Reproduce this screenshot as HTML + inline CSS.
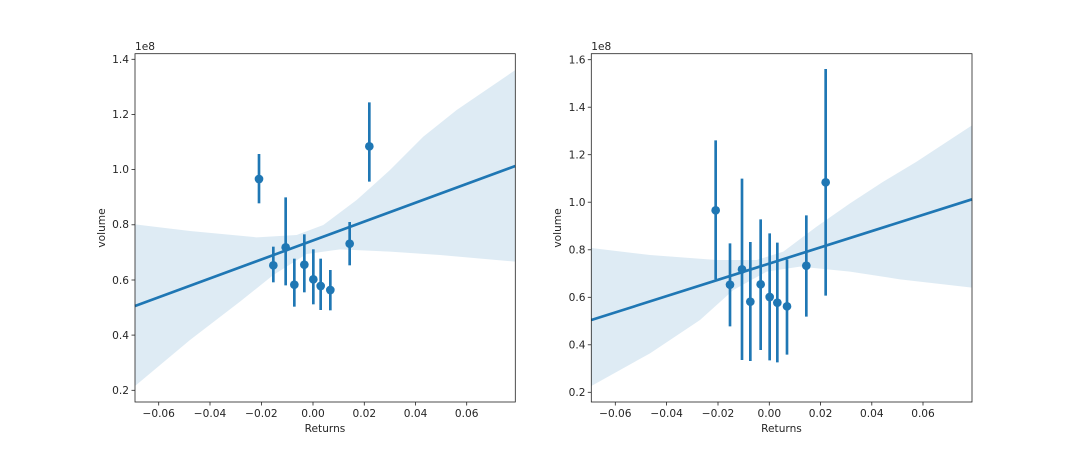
<!DOCTYPE html>
<html><head><style>body{margin:0;background:#fff}svg text{font-family:"DejaVu Sans","Liberation Sans",sans-serif;font-size:10.6px;fill:#262626}</style></head><body>
<svg width="1080" height="452" xmlns="http://www.w3.org/2000/svg">
<g transform="translate(90,30) scale(0.3333333)">
<path d="M135,583 L300,603 L500,622 L620,615 L700,585 L800,510 L900,420 L1000,320 L1100,240 L1276,120 L1276,695 L1050,675 L900,665 L750,658 L650,672 L550,735 L450,815 L300,930 L135,1068 Z" fill="#1f77b4" fill-opacity="0.15"/>
<line x1="135" y1="828" x2="1276" y2="408" stroke="#1f77b4" stroke-width="8"/>
<g stroke="#1f77b4" stroke-width="8">
<line x1="507" y1="372" x2="507" y2="520"/><line x1="550" y1="650" x2="550" y2="757"/><line x1="587" y1="502" x2="587" y2="766"/><line x1="613" y1="686" x2="613" y2="830"/><line x1="643" y1="613" x2="643" y2="787"/><line x1="670" y1="658" x2="670" y2="823"/><line x1="692" y1="686" x2="692" y2="840"/><line x1="721" y1="720" x2="721" y2="841"/><line x1="779" y1="576" x2="779" y2="706"/><line x1="838" y1="217" x2="838" y2="455"/>
</g>
<g fill="#1f77b4">
<circle cx="507" cy="447" r="13"/><circle cx="550" cy="706" r="13"/><circle cx="587" cy="652" r="13"/><circle cx="613" cy="764" r="13"/><circle cx="643" cy="704" r="13"/><circle cx="670" cy="748" r="13"/><circle cx="692" cy="768" r="13"/><circle cx="721" cy="780" r="13"/><circle cx="779" cy="641" r="13"/><circle cx="838" cy="349" r="13"/>
</g>
</g>
<g transform="translate(550,30) scale(0.3333333)">
<path d="M124,654 L300,675 L500,690 L620,690 L700,665 L800,590 L900,520 L1000,455 L1100,395 L1266,286 L1266,773 L1050,748 L900,725 L750,710 L650,725 L550,780 L450,870 L300,970 L124,1068 Z" fill="#1f77b4" fill-opacity="0.15"/>
<line x1="124" y1="870" x2="1266" y2="508" stroke="#1f77b4" stroke-width="8"/>
<g stroke="#1f77b4" stroke-width="8">
<line x1="497" y1="331" x2="497" y2="748"/><line x1="540" y1="640" x2="540" y2="889"/><line x1="576" y1="446" x2="576" y2="990"/><line x1="601" y1="636" x2="601" y2="993"/><line x1="632" y1="568" x2="632" y2="960"/><line x1="659" y1="610" x2="659" y2="991"/><line x1="682" y1="638" x2="682" y2="997"/><line x1="711" y1="688" x2="711" y2="974"/><line x1="769" y1="556" x2="769" y2="860"/><line x1="827" y1="117" x2="827" y2="797"/>
</g>
<g fill="#1f77b4">
<circle cx="497" cy="541" r="13"/><circle cx="540" cy="764" r="13"/><circle cx="576" cy="718" r="13"/><circle cx="601" cy="815" r="13"/><circle cx="632" cy="763" r="13"/><circle cx="659" cy="801" r="13"/><circle cx="682" cy="818" r="13"/><circle cx="711" cy="829" r="13"/><circle cx="769" cy="707" r="13"/><circle cx="827" cy="457" r="13"/>
</g>
</g>
<rect x="135" y="53.7" width="380.3" height="348.3" fill="none" stroke="#222" stroke-width="0.8"/>
<g stroke="#222" stroke-width="0.8">
<line x1="158.7" y1="402" x2="158.7" y2="405.5"/><line x1="210" y1="402" x2="210" y2="405.5"/><line x1="261.4" y1="402" x2="261.4" y2="405.5"/><line x1="313" y1="402" x2="313" y2="405.5"/><line x1="364.3" y1="402" x2="364.3" y2="405.5"/><line x1="415.6" y1="402" x2="415.6" y2="405.5"/><line x1="466.7" y1="402" x2="466.7" y2="405.5"/>
<line x1="131.5" y1="59.3" x2="135" y2="59.3"/><line x1="131.5" y1="114.5" x2="135" y2="114.5"/><line x1="131.5" y1="169.6" x2="135" y2="169.6"/><line x1="131.5" y1="224.8" x2="135" y2="224.8"/><line x1="131.5" y1="280" x2="135" y2="280"/><line x1="131.5" y1="335.1" x2="135" y2="335.1"/><line x1="131.5" y1="390.3" x2="135" y2="390.3"/>
</g>
<g text-anchor="middle">
<text x="158.7" y="417">−0.06</text><text x="210" y="417">−0.04</text><text x="261.4" y="417">−0.02</text><text x="313" y="417">0.00</text><text x="364.3" y="417">0.02</text><text x="415.6" y="417">0.04</text><text x="466.7" y="417">0.06</text>
<text x="325" y="432">Returns</text>
</g>
<g text-anchor="end">
<text x="129" y="63">1.4</text><text x="129" y="118">1.2</text><text x="129" y="173">1.0</text><text x="129" y="228">0.8</text><text x="129" y="284">0.6</text><text x="129" y="339">0.4</text><text x="129" y="394">0.2</text>
</g>
<text x="135" y="50">1e8</text>
<text transform="translate(105,228) rotate(-90)" text-anchor="middle">volume</text>
<rect x="591.3" y="53.7" width="380.7" height="348.3" fill="none" stroke="#222" stroke-width="0.8"/>
<g stroke="#222" stroke-width="0.8">
<line x1="615.3" y1="402" x2="615.3" y2="405.5"/><line x1="666.6" y1="402" x2="666.6" y2="405.5"/><line x1="718" y1="402" x2="718" y2="405.5"/><line x1="769.3" y1="402" x2="769.3" y2="405.5"/><line x1="820.6" y1="402" x2="820.6" y2="405.5"/><line x1="871.8" y1="402" x2="871.8" y2="405.5"/><line x1="923" y1="402" x2="923" y2="405.5"/>
<line x1="587.8" y1="59.7" x2="591.3" y2="59.7"/><line x1="587.8" y1="107.2" x2="591.3" y2="107.2"/><line x1="587.8" y1="154.7" x2="591.3" y2="154.7"/><line x1="587.8" y1="202.2" x2="591.3" y2="202.2"/><line x1="587.8" y1="249.8" x2="591.3" y2="249.8"/><line x1="587.8" y1="297.3" x2="591.3" y2="297.3"/><line x1="587.8" y1="344.8" x2="591.3" y2="344.8"/><line x1="587.8" y1="392.3" x2="591.3" y2="392.3"/>
</g>
<g text-anchor="middle">
<text x="615.3" y="417">−0.06</text><text x="666.6" y="417">−0.04</text><text x="718" y="417">−0.02</text><text x="769.3" y="417">0.00</text><text x="820.6" y="417">0.02</text><text x="871.8" y="417">0.04</text><text x="923" y="417">0.06</text>
<text x="781.5" y="432">Returns</text>
</g>
<g text-anchor="end">
<text x="585.5" y="63.4">1.6</text><text x="585.5" y="110.9">1.4</text><text x="585.5" y="158.4">1.2</text><text x="585.5" y="205.9">1.0</text><text x="585.5" y="253.5">0.8</text><text x="585.5" y="301">0.6</text><text x="585.5" y="348.5">0.4</text><text x="585.5" y="396">0.2</text>
</g>
<text x="591.3" y="50">1e8</text>
<text transform="translate(561,228) rotate(-90)" text-anchor="middle">volume</text>
</svg>
</body></html>
